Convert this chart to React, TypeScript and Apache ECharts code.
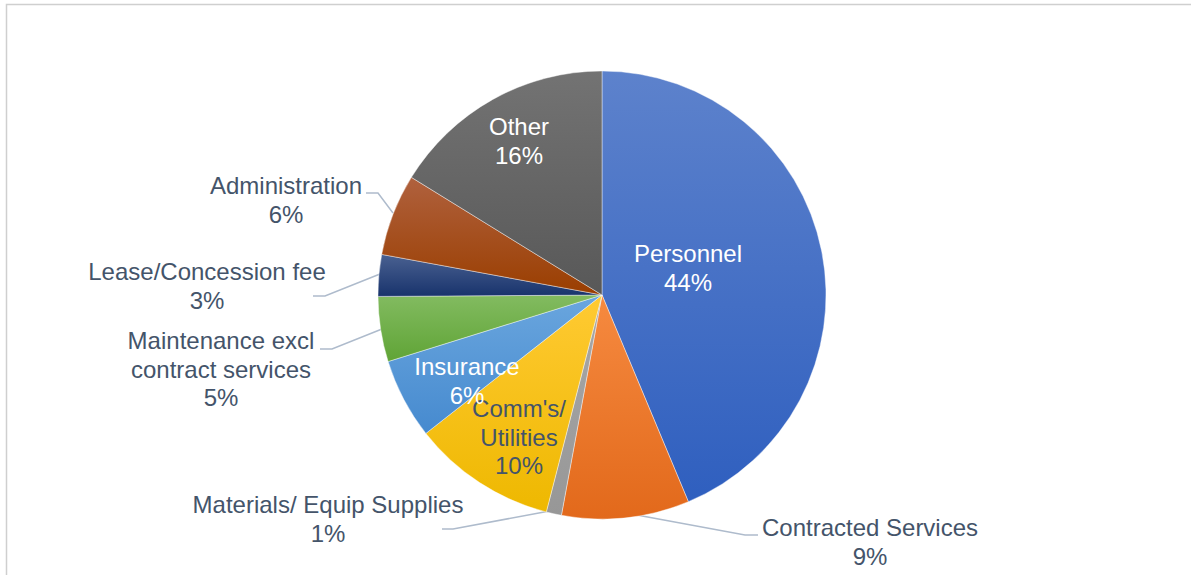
import React, { useEffect, useRef } from "react";
import * as echarts from "echarts";

const categories = [
  "Personnel",
  "Contracted Services",
  "Materials/ Equip Supplies",
  "Comm's/\nUtilities",
  "Insurance",
  "Maintenance excl\ncontract services",
  "Lease/Concession fee",
  "Administration",
  "Other",
];
const values = [43.7, 9.2, 1.1, 10.4, 5.8, 4.7, 3.0, 5.9, 16.2];

const gradients: [string, string][] = [
  ["#5d82cc", "#2f5fbf"],
  ["#f68a40", "#e2691b"],
  ["#a8a8a8", "#979797"],
  ["#ffca33", "#eeb800"],
  ["#6aa6de", "#468acf"],
  ["#82bb60", "#60a436"],
  ["#4a6191", "#18336c"],
  ["#b0613e", "#9a3e00"],
  ["#737373", "#585858"],
];

const insideIdx = [0, 3, 4, 8];
const labelColors = ["#ffffff", "#44546a", "#44546a", "#44546a", "#ffffff", "#44546a", "#44546a", "#44546a", "#ffffff"];

// label centers and leader lines (layout only)
const labelPos: [number, number][] = [
  [688, 268],
  [870, 542],
  [328, 519],
  [519, 437],
  [467, 381],
  [221, 369],
  [207, 286],
  [286, 200],
  [519, 141],
];
const leaderLines: ([number, number][] | null)[] = [
  null,
  [[626, 513], [745, 535], [758, 535]],
  [[555, 510], [453, 529], [442, 529]],
  null,
  null,
  [[382, 329], [332, 349], [320, 349]],
  [[380, 274], [325, 296], [313, 296]],
  [[393, 213], [378, 193], [366, 193]],
  null,
];

export default function App() {
  const ref = useRef<HTMLDivElement>(null);
  useEffect(() => {
    const chart = echarts.init(ref.current!, null, { renderer: "svg" });
    const data = categories.map((name, i) => ({
      name,
      value: values[i],
      itemStyle: {
        color: {
          type: "linear",
          x: 0,
          y: 0,
          x2: 0,
          y2: 1,
          colorStops: [
            { offset: 0, color: gradients[i][0] },
            { offset: 1, color: gradients[i][1] },
          ],
        },
      },
      label: { color: labelColors[i] },
      labelLine: { show: !insideIdx.includes(i) },
    }));
    chart.setOption({
      animation: false,
      backgroundColor: "#ffffff",
      graphic: [
        {
          type: "rect",
          shape: { x: 6.5, y: 4.5, width: 1400, height: 800 },
          style: { fill: "none", stroke: "#cfcfcf", lineWidth: 1.5 },
          silent: true,
        },
      ],
      series: [
        {
          type: "pie",
          center: [602, 295],
          radius: 224,
          startAngle: 90,
          clockwise: true,
          avoidLabelOverlap: false,
          data,
          itemStyle: { borderColor: "rgba(255,255,255,0.55)", borderWidth: 0.75 },
          label: {
            show: true,
            position: "outside",
            fontFamily: "Liberation Sans, Arial, sans-serif",
            fontSize: 24,
            lineHeight: 28.5,
            align: "center",
            formatter: (p: any) => `${p.name}\n${Math.round(p.percent)}%`,
          },
          labelLine: {
            show: true,
            lineStyle: { color: "#aebbcc", width: 1.5 },
          },
          labelLayout: (params: any) => {
            const i = params.dataIndex;
            const res: any = {
              x: labelPos[i][0],
              y: labelPos[i][1],
              align: "center",
              verticalAlign: "middle",
            };
            if (leaderLines[i]) res.labelLinePoints = leaderLines[i];
            return res;
          },
          emphasis: { disabled: true },
        },
      ],
    });
    return () => chart.dispose();
  }, []);
  return (
    <div
      ref={ref}
      style={{ position: "fixed", left: 0, top: 0, width: 1191, height: 575 }}
    />
  );
}
